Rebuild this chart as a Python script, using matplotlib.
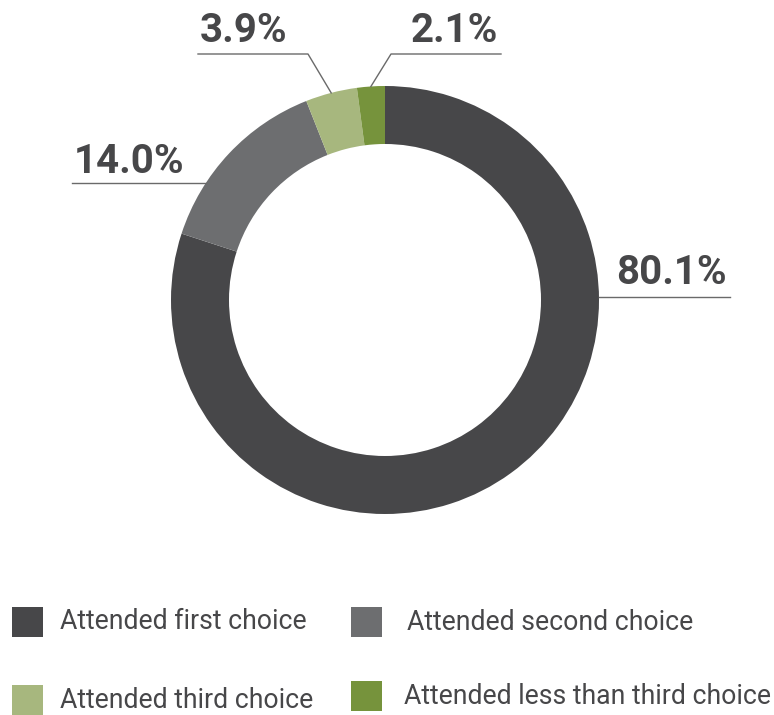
import numpy as np
import matplotlib.pyplot as plt
from matplotlib.patches import Rectangle

# ====================== DATA ======================
categories = ["Attended first choice", "Attended second choice",
              "Attended third choice", "Attended less than third choice"]
shares = [80.1, 14.0, 3.9, 2.1]
share_labels = ["80.1%", "14.0%", "3.9%", "2.1%"]
colors = ["#474749", "#6d6e70", "#a7b77e", "#76933c"]

# ====================== LAYOUT (pixels, y measured from top) ======================
W, H = 774, 715
CX, CY = 385, 300
R_OUT, R_IN = 214, 156
TXT = "#474749"
LINE = "#6a6a6a"

plt.rcParams['font.family'] = ['Roboto', 'DejaVu Sans']

fig = plt.figure(figsize=(W / 100, H / 100), dpi=100)
ax = fig.add_axes([0, 0, 1, 1])
ax.set_xlim(0, W)
ax.set_ylim(0, H)
ax.axis("off")


def py(y):
    return H - y


wedges, _ = ax.pie(shares, colors=colors, startangle=90, counterclock=False,
                   radius=R_OUT, center=(CX, py(CY)),
                   wedgeprops=dict(width=R_OUT - R_IN, linewidth=0))
ax.set_xlim(0, W)
ax.set_ylim(0, H)

# ====== LABELS ======
# horizontal leader lines from the ring edge (80.1%, 14.0%)
for i, (line_y, x_far, side) in {0: (297, 730, 1), 1: (183, 72, -1)}.items():
    dy = CY - line_y
    x_edge = CX + side * np.sqrt(R_OUT ** 2 - dy ** 2)
    ax.plot([x_edge, x_far], [py(line_y), py(line_y)], color=LINE, lw=1.0)
    if side > 0:
        ax.text(727, py(line_y - 13), share_labels[i], ha="right", va="baseline",
                fontsize=29, fontweight="bold", color=TXT)
    else:
        ax.text(74, py(line_y - 10), share_labels[i], ha="left", va="baseline",
                fontsize=29, fontweight="bold", color=TXT)

# elbow leader lines for the small slices (3.9%, 2.1%)
total = sum(shares)
cum = np.cumsum([0] + shares)
elbow = {2: (308, 198, 200, "left"), 3: (391, 501, 498, "right")}
for i, (x_elb, x_end, x_txt, ha) in elbow.items():
    mid = (cum[i] + shares[i] / 2) / total
    ang = np.deg2rad(90 - 360 * mid)
    ax_pt = CX + R_OUT * np.cos(ang)
    ay_pt = CY - R_OUT * np.sin(ang)
    ax.plot([ax_pt, x_elb, x_end], [py(ay_pt), py(54), py(54)], color=LINE, lw=1.0)
    ax.text(x_txt, py(42), share_labels[i], ha=ha, va="baseline",
            fontsize=29, fontweight="bold", color=TXT)

# ====== LEGEND ======
legend_pos = [(12, 607, 60, 629), (351, 607, 407, 630),
              (12, 685, 60, 708), (351, 681, 404, 704)]
for (sx, sy, tx, ty), name, c in zip(legend_pos, categories, colors):
    ax.add_patch(Rectangle((sx, py(sy + 30)), 31, 30, facecolor=c, edgecolor="none"))
    ax.text(tx, py(ty), name, ha="left", va="baseline", fontsize=19.2, color=TXT)

fig.savefig("out.png", dpi=100, facecolor="white")
